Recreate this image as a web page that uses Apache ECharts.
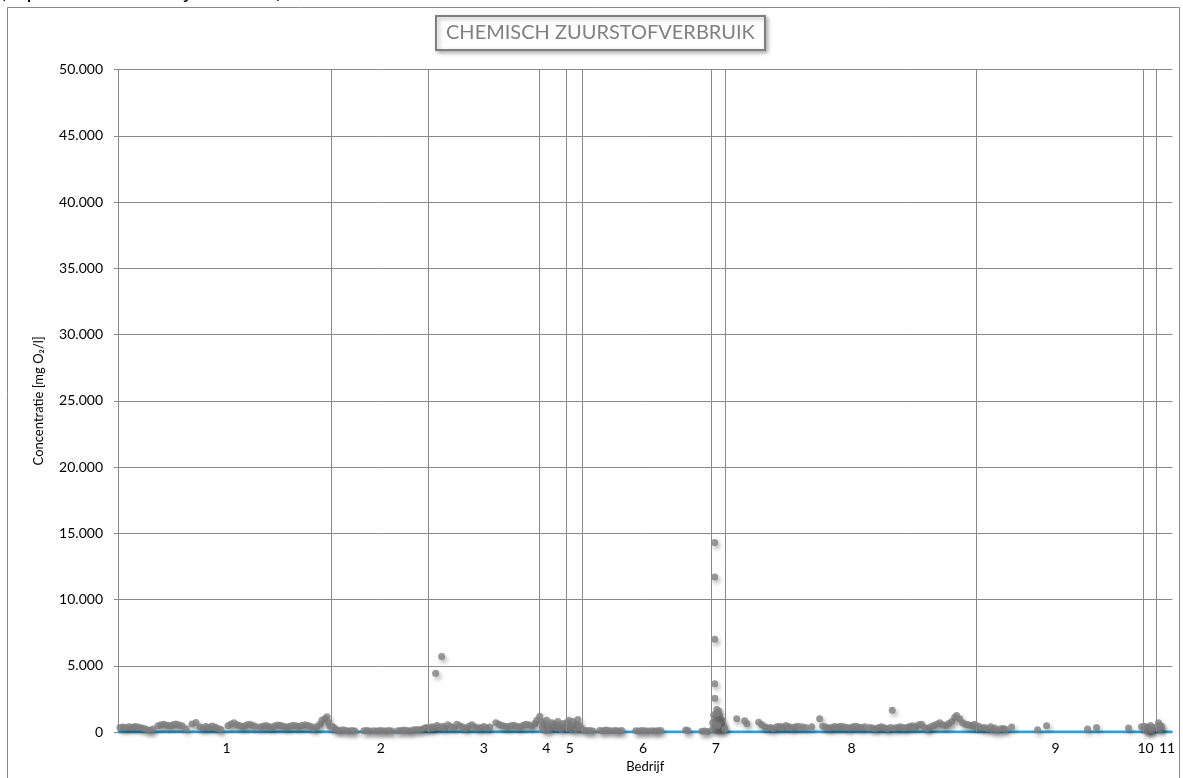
<!DOCTYPE html>
<html>
<head>
<meta charset="utf-8">
<script src="https://cdn.jsdelivr.net/npm/echarts@6/dist/echarts.min.js"></script>
<style>
  html, body { margin: 0; padding: 0; background: #fff; }
  #chart { width: 1183px; height: 778px; }
</style>
</head>
<body>
<div id="chart"></div>
<script>
// bedrijven en hun labelpositie (monsternummer)
var bedrijven = ["1", "2", "3", "4", "5", "6", "7", "8", "9", "10", "11"];
var labelPos = [54.3, 131.5, 183, 214.3, 226, 262.7, 299, 367, 469, 514, 524.8];
// scheidingslijnen tussen de bedrijven
var grenzen = [0, 106.5, 155, 210.5, 224, 232, 297, 304, 429.5, 513, 519.5];
var xMax = 527.5;
var yTicks = [0, 5000, 10000, 15000, 20000, 25000, 30000, 35000, 40000, 45000, 50000];

// metingen [monsternummer, CZV mg O2/l]
var bedrijf1 = [[1,350],[2.5,380],[4,330],[5.5,400],[7,360],[8.5,420],[10,380],[11.5,320],[13,280],[14.5,200],[16,120],[17.5,240],
  [20,480],[21.5,550],[23,600],[24.5,520],[26,470],[27.5,560],[29,620],[30.5,540],[32,480],[34,260],[37,620],[39,720],
  [41,380],[42.5,300],[44,420],[45.5,350],[47,460],[48.5,380],[50,280],[51.5,200],
  [55,480],[56.5,620],[58,700],[59.5,560],[61,480],[62.5,420],[64,520],[65.5,600],[67,540],[68.5,440],
  [71,380],[72.5,450],[74,500],[75.5,420],[77,360],[78.5,480],[80,540],[81.5,500],[83,430],[84.5,380],[86,450],[87.5,520],
  [89,480],[90.5,420],[92,500],[93.5,560],[95,500],[96.5,430],[98,250],[99.5,420],[101,600],[102,900],[103.5,1000],
  [104.5,1150],[105.5,700],[106,450]];
var bedrijf2 = [[107.5,400],[108.5,250],[109.5,150],[111,100],[112.5,180],[114,120],[115.5,90],[117,130],[118.5,80],
  [123,100],[124.5,130],[126,90],[128,110],[129.5,80],[131,120],[132.5,100],[134,90],[135.5,120],[137,80],
  [140,100],[141.5,130],[143,150],[144.5,120],[146,90],[147.5,150],[149,200],[150.5,180],[152,220],[153.5,300],[154.5,350]];
var bedrijf3 = [[156,250],[157,400],[158,300],[158.9,4450],[159.5,500],[160.5,380],[161.9,5700],[162.5,450],[163.5,300],
  [165,550],[166.5,420],[168,350],[169.5,600],[171,480],[172.5,380],[174,280],[175.5,450],[177,550],[178.5,400],[180,300],
  [181.5,350],[183,420],[184.5,300],[186,380],[189,700],[190.5,600],[192,500],[193.5,450],[195,400],[196.5,480],[198,520],
  [199.5,450],[201,380],[202.5,500],[204,600],[205.5,550],[207,450],[208.5,650],[209.5,900]];
var bedrijf4 = [[211,1200],[212,800],[212.5,300],[213,600],[214,100],[214.5,900],[215.5,500],[216,200],[217,700],[217.5,400],
  [218.5,600],[219.5,300],[220,800],[221,500],[222,200],[222.5,650],[223.5,400]];
var bedrijf5 = [[224.5,700],[225,300],[225.5,900],[226,500],[227,200],[227.5,800],[228,400],[229,600],[229.5,150],[230,950],
  [231,500],[231.5,300]];
var bedrijf6 = [[233,150],[234.5,100],[236,120],[237.5,80],[241,130],[242.5,100],[244,150],[245.5,120],[247.5,100],[249,130],
  [250.5,90],[252,120],[259,100],[260.5,80],[262,120],[263.5,100],[265,90],[267,110],[268.5,80],[270,100],[271.5,120],
  [284,150],[285,120],[292,60],[293.5,80],[295,40]];
var bedrijf7 = [[298.5,14300],[298.5,11700],[298.5,7000],[298.5,3650],[298.5,2550],[299.5,1700],[300.5,1600],[298,1300],
  [299,1100],[300,1000],[301,900],[298.5,800],[299.5,700],[300.5,600],[301.5,500],[298,400],[299,300],[300,200],[301,100],
  [302,300],[302.5,600],[303,400],[297.5,700],[297.5,200],[302,900],[301,1200],[299.5,1400],[300,500],[303.5,200]];
var bedrijf8 = [[309.5,1000],[313.5,850],[314.5,650],[320.5,750],[322,550],[323.5,400],[325,300],[326.5,350],[328,250],
  [329.5,400],[331,450],[332.5,350],[334,500],[335.5,420],[337,300],[338.5,380],[340,450],[342,400],[344,350],
  [347,400],[351,1000],[352.5,450],[354,380],[355.5,300],[357,350],[358.5,420],[360,380],[361.5,450],[363,400],[364.5,350],
  [366,300],[367.5,400],[369,450],[370.5,380],[372,320],[373.5,400],[376,350],[377.5,300],[379,250],[380.5,350],[382,400],
  [383.5,300],[385,250],[386.5,350],[387.3,1650],[388.5,300],[390,350],[391.5,400],[393,300],[394.5,350],[396,420],
  [397.5,480],[399,400],[400.5,550],[402,600],[403.5,350],[405,250],[406.5,400],[408,500],[409.5,600],[411,700],[412.5,550],
  [414,500],[415.5,650],[417,800],[418.5,1100],[419.5,1250],[421,1000],[422.5,700],[424,600],[425.5,550],[427,500],
  [428.5,600],[429,400]];
var bedrijf9 = [[430.5,450],[432,300],[433.5,350],[435,250],[436.5,400],[437.5,150],[438.5,300],[440,100],[441.5,250],
  [443,280],[444,200],[447,380],[460,180],[464.5,480],[485,230],[489.5,350],[505.5,300],[512,400]];
var bedrijf10 = [[513.5,450],[514,250],[514.5,100],[515,350],[515.5,50],[516,300],[516.5,500],[517,200],[517.5,150],[518,350]];
var bedrijf11 = [[520.5,700],[521,500],[521,300],[521.5,200],[522,450]];
// blauwe lijn op 0
var normLijn = [[0, 0], [xMax, 0]];

var alleMetingen = [].concat(bedrijf1, bedrijf2, bedrijf3, bedrijf4, bedrijf5, bedrijf6,
  bedrijf7, bedrijf8, bedrijf9, bedrijf10, bedrijf11);

function duizendtal(v) {
  return String(v).replace(/\B(?=(\d{3})+(?!\d))/g, ".");
}

var chart = echarts.init(document.getElementById("chart"));
chart.setOption({
  animation: false,
  textStyle: { fontFamily: "Lato" },
  title: {
    text: "CHEMISCH ZUURSTOFVERBRUIK",
    left: 436,
    top: 16,
    padding: [7, 10, 7, 10],
    borderColor: "#7f7f7f",
    borderWidth: 2,
    backgroundColor: "#fff",
    shadowColor: "rgba(0,0,0,0.3)",
    shadowBlur: 4,
    shadowOffsetX: 2,
    shadowOffsetY: 2,
    textStyle: { color: "#7f7f7f", fontSize: 20, fontWeight: "normal", fontFamily: "Lato" }
  },
  graphic: [
    {
      type: "rect",
      shape: { x: 7.5, y: 7.5, width: 1172, height: 800 },
      style: { fill: "none", stroke: "#8a8a8a", lineWidth: 1 },
      silent: true
    },
    {
      type: "text",
      left: 0,
      top: -20,
      style: { text: "(september 2009 - juni 2010)", fontSize: 22, fontFamily: "Lato", fill: "#000" },
      silent: true
    }
  ],
  grid: { left: 118, right: 10.5, top: 69.5, bottom: 42 },
  xAxis: {
    type: "value",
    min: 0,
    max: xMax,
    name: "Bedrijf",
    nameLocation: "middle",
    nameGap: 23,
    nameTextStyle: { color: "#000", fontSize: 13, fontFamily: "Lato" },
    axisLine: { show: false },
    axisTick: { show: false },
    splitLine: { show: false },
    axisLabel: {
      customValues: labelPos,
      margin: 9,
      color: "#000",
      fontSize: 14,
      fontFamily: "Lato",
      formatter: function (v) {
        var i = labelPos.indexOf(v);
        return i >= 0 ? bedrijven[i] : "";
      }
    }
  },
  yAxis: {
    type: "value",
    min: 0,
    max: 50000,
    interval: 5000,
    name: "Concentratie [mg O\u2082/l]",
    nameLocation: "middle",
    nameGap: 73,
    nameTextStyle: { color: "#000", fontSize: 13, fontFamily: "Lato" },
    axisLine: { show: true, lineStyle: { color: "#8a8a8a", width: 1 } },
    axisTick: { show: true, length: 4, lineStyle: { color: "#8a8a8a" } },
    splitLine: { show: true, lineStyle: { color: "#8a8a8a", width: 1 } },
    axisLabel: {
      margin: 15,
      color: "#000",
      fontSize: 14,
      fontFamily: "Lato",
      formatter: function (v) { return duizendtal(v); }
    }
  },
  series: [
    {
      name: "norm",
      type: "line",
      data: normLijn,
      symbol: "none",
      z: 2,
      lineStyle: { color: "#2ea1d6", width: 3 },
      markLine: {
        silent: true,
        symbol: ["none", "none"],
        label: { show: false },
        lineStyle: { color: "#8a8a8a", width: 1, type: "solid" },
        data: grenzen.slice(1).map(function (g) { return { xAxis: g }; })
      }
    },
    {
      name: "CZV",
      type: "scatter",
      data: alleMetingen,
      symbolSize: 7,
      z: 3,
      itemStyle: {
        color: "#7f7f7f",
        shadowColor: "rgba(0,0,0,0.35)",
        shadowBlur: 4,
        shadowOffsetX: 2,
        shadowOffsetY: 3
      }
    }
  ]
});
</script>
</body>
</html>
